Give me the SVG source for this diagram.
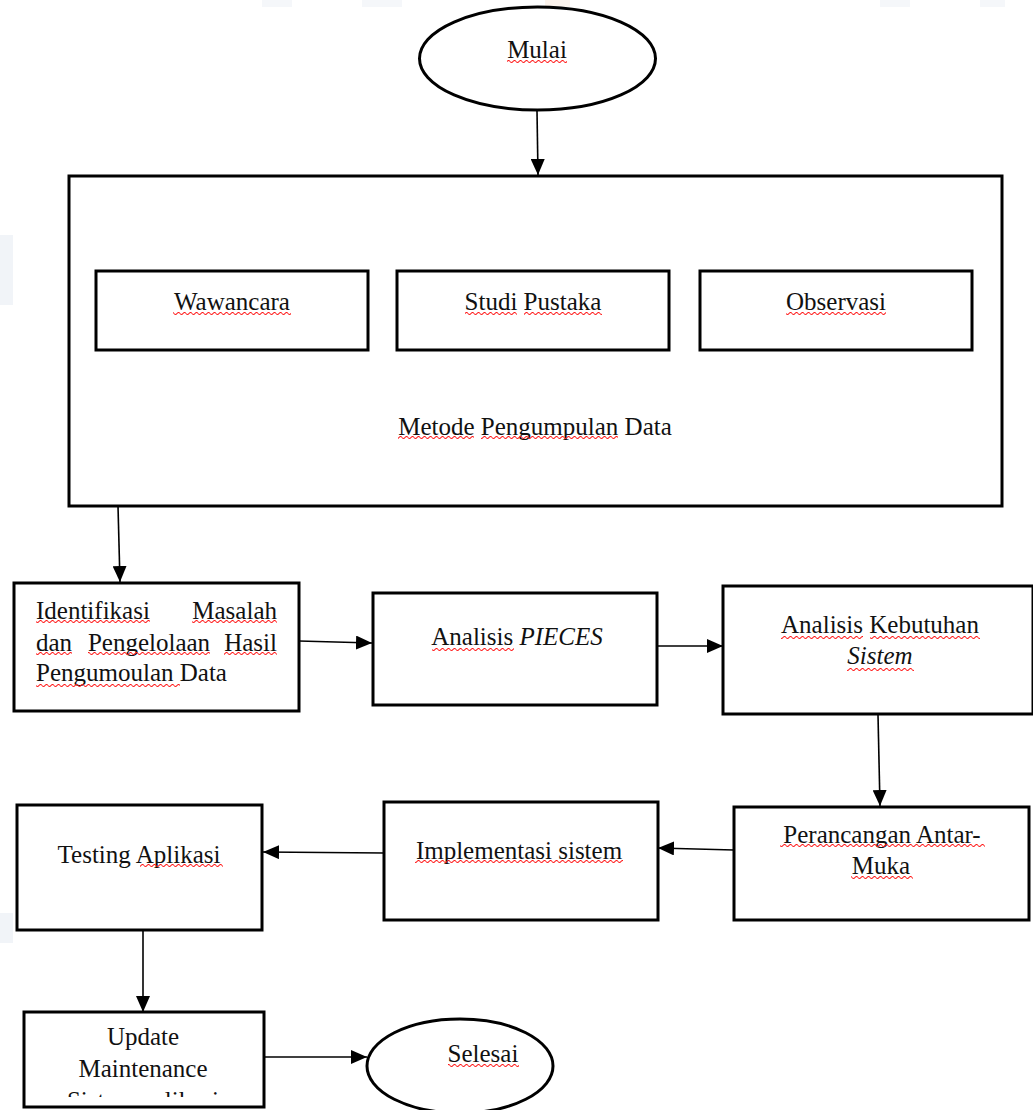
<svg xmlns="http://www.w3.org/2000/svg" width="1033" height="1110" viewBox="0 0 1033 1110">
<style>
.box{fill:#fff;stroke:#000;stroke-width:3}
.ell{fill:#fff;stroke:#000;stroke-width:3}
.t{font-family:"Liberation Serif","Times New Roman",serif;font-size:25px;fill:#111}
.c{text-anchor:middle}
.e{text-anchor:end}
.i{font-style:italic}
.sq{fill:url(#wave)}
.con line{stroke:#000;stroke-width:1.6;marker-end:url(#ah)}
.wm{fill:#eef1f6}
</style>
<defs>
<marker id="ah" markerUnits="userSpaceOnUse" markerWidth="16" markerHeight="14" refX="16" refY="7" orient="auto">
<path d="M0,0 L16,7 L0,14 z" fill="#000"/>
</marker>
<pattern id="wave" x="0" y="0" width="6" height="4" patternUnits="userSpaceOnUse">
<path d="M0,1.5 Q1.5,3.5 3,1.5 Q4.5,-0.5 6,1.5" fill="none" stroke="#ff1a1a" stroke-width="1.1"/>
</pattern>
<clipPath id="updclip"><rect x="24" y="1013" width="239" height="84"/></clipPath>
</defs>
<rect width="1033" height="1110" fill="#fff"/>
<g id="watermark">
<rect class="wm" x="262" y="0" width="30" height="7" opacity="0.6"/>
<rect class="wm" x="362" y="0" width="40" height="7" opacity="0.6"/>
<rect x="545" y="0" width="25" height="7" fill="#fbeee4" opacity="0.7"/>
<rect class="wm" x="880" y="0" width="30" height="7" opacity="0.6"/>
<rect class="wm" x="980" y="0" width="25" height="7" opacity="0.6"/>
<rect class="wm" x="0" y="235" width="13" height="70" opacity="0.8"/>
<rect class="wm" x="0" y="913" width="13" height="30" opacity="0.8"/>
</g>

<g id="connectors" class="con">
<line x1="537" y1="111" x2="538" y2="175"/>
<line x1="118" y1="506" x2="120" y2="582"/>
<line x1="299" y1="641" x2="372" y2="643"/>
<line x1="658" y1="646" x2="723" y2="646"/>
<line x1="878" y1="715" x2="880" y2="806"/>
<line x1="734" y1="850" x2="658" y2="848"/>
<line x1="384" y1="853" x2="263" y2="852"/>
<line x1="143" y1="930" x2="143" y2="1012"/>
<line x1="264" y1="1057" x2="367" y2="1057"/>
</g>

<g id="mulai">
<ellipse class="ell" cx="537.5" cy="58.5" rx="118" ry="51.5"/>
<text class="t c" x="537" y="58">Mulai</text>
<rect class="sq" x="507" y="60" width="60" height="4"/>
</g>

<g id="metode">
<rect class="box" x="69" y="176" width="933" height="330"/>
<text class="t c" x="535" y="435">Metode Pengumpulan Data</text>
<rect class="sq" x="398" y="436" width="76" height="4"/>
<rect class="sq" x="481" y="436" width="137" height="4"/>
</g>

<g id="wawancara">
<rect class="box" x="96" y="271" width="272" height="79"/>
<text class="t c" x="232" y="310">Wawancara</text>
<rect class="sq" x="173" y="312" width="118" height="4"/>
</g>

<g id="studi">
<rect class="box" x="397" y="271" width="272" height="79"/>
<text class="t c" x="533" y="310">Studi Pustaka</text>
<rect class="sq" x="465" y="312" width="52" height="4"/>
<rect class="sq" x="524" y="312" width="78" height="4"/>
</g>

<g id="observasi">
<rect class="box" x="700" y="271" width="272" height="79"/>
<text class="t c" x="836" y="310">Observasi</text>
<rect class="sq" x="786" y="312" width="100" height="4"/>
</g>

<g id="identifikasi">
<rect class="box" x="14" y="583" width="285" height="128"/>
<text class="t" x="36" y="619">Identifikasi</text>
<text class="t e" x="277" y="619">Masalah</text>
<text class="t" x="36" y="651">dan</text>
<text class="t c" x="149" y="651">Pengelolaan</text>
<text class="t e" x="277" y="651">Hasil</text>
<text class="t" x="36" y="681">Pengumoulan Data</text>
<rect class="sq" x="36" y="620" width="114" height="4"/>
<rect class="sq" x="192" y="620" width="85" height="4"/>
<rect class="sq" x="36" y="652" width="36" height="4"/>
<rect class="sq" x="88" y="652" width="122" height="4"/>
<rect class="sq" x="224" y="652" width="53" height="4"/>
<rect class="sq" x="36" y="684" width="144" height="4"/>
</g>

<g id="pieces">
<rect class="box" x="373" y="593" width="284" height="112"/>
<text class="t c" x="517" y="645">Analisis <tspan class="i">PIECES</tspan></text>
<rect class="sq" x="432" y="648" width="82" height="4"/>
</g>

<g id="kebutuhan">
<rect class="box" x="723" y="586" width="310" height="128"/>
<text class="t c" x="880" y="633">Analisis Kebutuhan</text>
<text class="t c i" x="880" y="664">Sistem</text>
<rect class="sq" x="781" y="636" width="82" height="4"/>
<rect class="sq" x="870" y="636" width="110" height="4"/>
<rect class="sq" x="847" y="668" width="67" height="4"/>
</g>

<g id="perancangan">
<rect class="box" x="734" y="807" width="295" height="113"/>
<text class="t c" x="882" y="843">Perancangan Antar-</text>
<text class="t c" x="881" y="874">Muka</text>
<rect class="sq" x="780" y="844" width="205" height="4"/>
<rect class="sq" x="851" y="876" width="62" height="4"/>
</g>

<g id="implementasi">
<rect class="box" x="384" y="802" width="274" height="118"/>
<text class="t c" x="519" y="859">Implementasi sistem</text>
<rect class="sq" x="415" y="860" width="208" height="4"/>
</g>

<g id="testing">
<rect class="box" x="17" y="805" width="245" height="125"/>
<text class="t c" x="139" y="863">Testing Aplikasi</text>
<rect class="sq" x="140" y="864" width="83" height="4"/>
</g>

<g id="update">
<rect class="box" x="24" y="1012" width="240" height="95"/>
<g clip-path="url(#updclip)">
<text class="t c" x="143" y="1045">Update</text>
<text class="t c" x="143" y="1077">Maintenance</text>
<text class="t c" x="143" y="1109">Sistem aplikasi</text>
</g>
</g>

<g id="selesai">
<ellipse class="ell" cx="460" cy="1066" rx="93" ry="47"/>
<text class="t c" x="483" y="1062">Selesai</text>
<rect class="sq" x="448" y="1064" width="71" height="4"/>
</g>
</svg>
